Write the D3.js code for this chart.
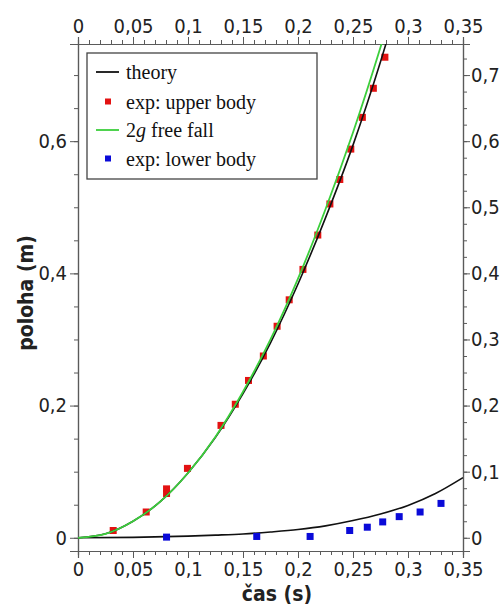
<!DOCTYPE html>
<html>
<head>
<meta charset="utf-8">
<script src="https://cdn.jsdelivr.net/npm/d3@7"></script>
<style>
  body { margin: 0; background: #fff; }
  svg { display: block; }
</style>
</head>
<body>
<div id="chart"></div>
<script>
// Define SVG area dimensions
var svgWidth = 504;
var svgHeight = 612;

// plot box in pixels
var plot = { left: 78, right: 463, top: 44, bottom: 551 };

// experimental points, upper body (time s, position m)
var upperT = [0.032, 0.062, 0.0805, 0.0805, 0.0995, 0.130, 0.143, 0.155, 0.1685, 0.181,
              0.192, 0.2045, 0.218, 0.229, 0.238, 0.248, 0.2585, 0.2685, 0.279];
var upperY = [0.011, 0.039, 0.074, 0.067, 0.105, 0.170, 0.202, 0.238, 0.275, 0.320,
              0.360, 0.406, 0.458, 0.505, 0.542, 0.588, 0.636, 0.680, 0.727];

// experimental points, lower body
var lowerT = [0.0805, 0.1625, 0.211, 0.247, 0.263, 0.277, 0.292, 0.311, 0.330];
var lowerY = [0.001, 0.002, 0.002, 0.011, 0.016, 0.024, 0.032, 0.039, 0.052];

// theory curve, upper body
var theoryUpT = [0, 0.025, 0.05, 0.075, 0.1, 0.125, 0.15, 0.175, 0.2, 0.225, 0.25, 0.275, 0.285];
var theoryUpY = [0, 0.006, 0.025, 0.055, 0.098, 0.152, 0.218, 0.295, 0.384, 0.484, 0.594, 0.720, 0.775];

// theory curve, lower body
var theoryLowT = [0, 0.05, 0.1, 0.125, 0.15, 0.175, 0.2, 0.225, 0.25, 0.275, 0.3, 0.325, 0.35];
var theoryLowY = [0, 0.0006, 0.0025, 0.004, 0.0058, 0.0088, 0.0125, 0.018, 0.026, 0.036, 0.049, 0.067, 0.091];

// 2g free fall curve
var fallT = [0, 0.025, 0.05, 0.075, 0.1, 0.125, 0.15, 0.175, 0.2, 0.225, 0.25, 0.275, 0.285];
var fallY = [0, 0.006, 0.025, 0.055, 0.098, 0.153, 0.221, 0.300, 0.392, 0.497, 0.613, 0.742, 0.797];

// tick labels
var xTicks = [0, 0.05, 0.1, 0.15, 0.2, 0.25, 0.3, 0.35];
var yLeftTicks = [0, 0.2, 0.4, 0.6];
var yRightTicks = [0, 0.1, 0.2, 0.3, 0.4, 0.5, 0.6, 0.7];

var legendLabels = ["theory", "exp: upper body", "2g free fall", "exp: lower body"];

var colRed = "#e31212";
var colBlue = "#0a0ad8";
var colGreen = "#3ccf3c";
var colBlack = "#111";
var colAxis = "#5a5a5a";

var svg = d3.select("#chart")
    .append("svg")
    .attr("width", svgWidth)
    .attr("height", svgHeight);

var x = d3.scaleLinear().domain([0, 0.35]).range([plot.left, plot.right]);
var y = d3.scaleLinear().domain([-0.02, 0.747]).range([plot.bottom, plot.top]);

var fmt = d => String(+d.toFixed(3)).replace(".", ",");
var tickFont = "'DejaVu Sans Condensed', 'DejaVu Sans', sans-serif";

// small helper to style an axis group
function styleAxis(g, showText) {
    g.select(".domain").attr("stroke", colAxis).attr("stroke-width", 1.2);
    g.selectAll(".tick line").attr("stroke", colAxis).attr("stroke-width", 1);
    g.selectAll(".tick text")
        .attr("fill", "#222")
        .style("font-family", tickFont)
        .style("font-size", "20px");
    if (!showText) g.selectAll(".tick text").remove();
}

var xMinor = d3.range(0, 0.3501, 0.01);
var yLeftMinor = d3.range(0, 0.7001, 0.05);
var yRightMinor = d3.range(0, 0.7251, 0.025);

// minor ticks
[["bottom", d3.axisBottom(x), plot.bottom, xMinor],
 ["top", d3.axisTop(x), plot.top, xMinor]].forEach(function (a) {
    var g = svg.append("g").attr("transform", `translate(0,${a[2]})`)
        .call(a[1].tickValues(a[3]).tickSize(4).tickFormat(""));
    styleAxis(g, false);
});
[[d3.axisLeft(y), plot.left, yLeftMinor],
 [d3.axisRight(y), plot.right, yRightMinor]].forEach(function (a) {
    var g = svg.append("g").attr("transform", `translate(${a[1]},0)`)
        .call(a[0].tickValues(a[2]).tickSize(4).tickFormat(""));
    styleAxis(g, false);
});

// major ticks with labels
var gBottom = svg.append("g").attr("transform", `translate(0,${plot.bottom})`)
    .call(d3.axisBottom(x).tickValues(xTicks).tickSize(7).tickPadding(4).tickFormat(fmt));
styleAxis(gBottom, true);

var gTop = svg.append("g").attr("transform", `translate(0,${plot.top})`)
    .call(d3.axisTop(x).tickValues(xTicks).tickSize(7).tickPadding(4).tickFormat(fmt));
styleAxis(gTop, true);

var gLeft = svg.append("g").attr("transform", `translate(${plot.left},0)`)
    .call(d3.axisLeft(y).tickValues(yLeftTicks).tickSize(8).tickPadding(3).tickFormat(fmt));
styleAxis(gLeft, true);

var gRight = svg.append("g").attr("transform", `translate(${plot.right},0)`)
    .call(d3.axisRight(y).tickValues(yRightTicks).tickSize(7).tickPadding(1).tickFormat(fmt));
styleAxis(gRight, true);

// axis titles
svg.append("text")
    .attr("x", 277).attr("y", 601)
    .attr("text-anchor", "middle")
    .style("font-family", tickFont).style("font-size", "21px").style("font-weight", "bold")
    .attr("fill", "#222")
    .text("čas (s)");

svg.append("text")
    .attr("transform", "translate(33,293)rotate(-90)")
    .attr("text-anchor", "middle")
    .style("font-family", tickFont).style("font-size", "21px").style("font-weight", "bold")
    .attr("fill", "#222")
    .text("poloha (m)");

// clip to the plot box
svg.append("clipPath").attr("id", "clip")
    .append("rect")
    .attr("x", plot.left).attr("y", plot.top)
    .attr("width", plot.right - plot.left).attr("height", plot.bottom - plot.top);

var g = svg.append("g").attr("clip-path", "url(#clip)");

var line = d3.line()
    .x(d => x(d[0]))
    .y(d => y(d[1]))
    .curve(d3.curveMonotoneX);

var sq = 7;

// red points
g.selectAll(".up").data(d3.zip(upperT, upperY))
    .enter().append("rect")
    .attr("class", "up")
    .attr("x", d => x(d[0]) - sq / 2)
    .attr("y", d => y(d[1]) - sq / 2)
    .attr("width", sq).attr("height", sq)
    .attr("fill", colRed);

// theory curves
g.append("path").datum(d3.zip(theoryUpT, theoryUpY))
    .attr("d", line).attr("fill", "none")
    .attr("stroke", colBlack).attr("stroke-width", 1.6);
g.append("path").datum(d3.zip(theoryLowT, theoryLowY))
    .attr("d", line).attr("fill", "none")
    .attr("stroke", colBlack).attr("stroke-width", 1.6);

// free fall
g.append("path").datum(d3.zip(fallT, fallY))
    .attr("d", line).attr("fill", "none")
    .attr("stroke", colGreen).attr("stroke-width", 1.8);

// blue points
g.selectAll(".low").data(d3.zip(lowerT, lowerY))
    .enter().append("rect")
    .attr("class", "low")
    .attr("x", d => x(d[0]) - sq / 2)
    .attr("y", d => y(d[1]) - sq / 2)
    .attr("width", sq).attr("height", sq)
    .attr("fill", colBlue);

// legend
var lg = svg.append("g").attr("transform", "translate(87,53)");
lg.append("rect")
    .attr("width", 230).attr("height", 126)
    .attr("fill", "#fff")
    .attr("stroke", "#444").attr("stroke-width", 1.3);

var rowY = [19, 48.5, 77, 105.5];
var kinds = ["line", "red", "green", "blue"];

kinds.forEach(function (k, i) {
    var ry = rowY[i];
    if (k == "line" || k == "green") {
        lg.append("line")
            .attr("x1", 9).attr("x2", 32)
            .attr("y1", ry).attr("y2", ry)
            .attr("stroke", k == "line" ? colBlack : colGreen)
            .attr("stroke-width", 1.8);
    } else {
        lg.append("rect")
            .attr("x", 21 - 3).attr("y", ry - 3)
            .attr("width", 6).attr("height", 6)
            .attr("fill", k == "red" ? colRed : colBlue);
    }
    var t = lg.append("text")
        .attr("x", 39).attr("y", ry + 7)
        .style("font-family", "'Liberation Serif', 'Times New Roman', serif")
        .style("font-size", "20px")
        .attr("fill", "#111");
    if (k == "green") {
        t.append("tspan").text("2");
        t.append("tspan").style("font-style", "italic").text("g");
        t.append("tspan").text(" free fall");
    } else {
        t.text(legendLabels[i]);
    }
});
</script>
</body>
</html>
